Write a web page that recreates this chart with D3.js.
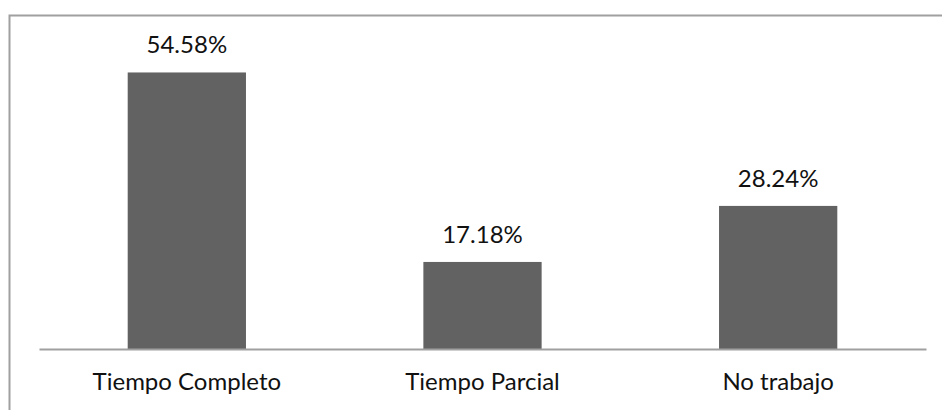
<!DOCTYPE html>
<html>
<head>
<meta charset="utf-8">
<script src="https://cdn.jsdelivr.net/npm/d3@7"></script>
<style>
  html, body { margin: 0; padding: 0; background: #fff; }
  svg { display: block; }
  text { font-family: Lato, "Open Sans", sans-serif; fill: #111; }
</style>
</head>
<body>
<svg id="chart" width="942" height="410"></svg>
<script>
// Situación laboral: porcentaje por categoría
const categories = ["Tiempo Completo", "Tiempo Parcial", "No trabajo"];
const values = [54.58, 17.18, 28.24];
const valueLabels = ["54.58%", "17.18%", "28.24%"];

const svg = d3.select("#chart");
const W = 942, H = 410;
const FONT = 24;

// outer frame of the chart area
svg.append("rect")
  .attr("x", 9.5).attr("y", 15.5)
  .attr("width", W + 20).attr("height", H + 20)
  .attr("fill", "none")
  .attr("stroke", "#a0a0a0")
  .attr("stroke-width", 2);

const x = d3.scaleBand()
  .domain(categories)
  .range([39, 926])
  .paddingInner(0.6)
  .paddingOuter(0.3);

const y = d3.scaleLinear()
  .domain([0, 60])
  .range([349, 45]);

// bars
svg.append("g")
  .selectAll("rect")
  .data(values)
  .join("rect")
  .attr("x", (d, i) => x(categories[i]))
  .attr("y", d => y(d))
  .attr("width", x.bandwidth())
  .attr("height", d => y(0) - y(d))
  .attr("fill", "#626262");

// category axis line and labels
const xAxis = d3.axisBottom(x).tickSize(0).tickPadding(24);
const gx = svg.append("g")
  .attr("transform", `translate(0,${y(0)})`)
  .call(xAxis);
gx.select(".domain")
  .attr("stroke", "#a0a0a0")
  .attr("stroke-width", 2);
gx.selectAll(".tick text")
  .attr("font-family", "Lato, 'Open Sans', sans-serif")
  .attr("font-size", FONT)
  .attr("fill", "#111");

// value labels above bars
svg.append("g")
  .selectAll("text")
  .data(values)
  .join("text")
  .attr("x", (d, i) => x(categories[i]) + x.bandwidth() / 2)
  .attr("y", d => y(d) - 19)
  .attr("text-anchor", "middle")
  .attr("font-size", FONT)
  .text((d, i) => valueLabels[i]);
</script>
</body>
</html>
